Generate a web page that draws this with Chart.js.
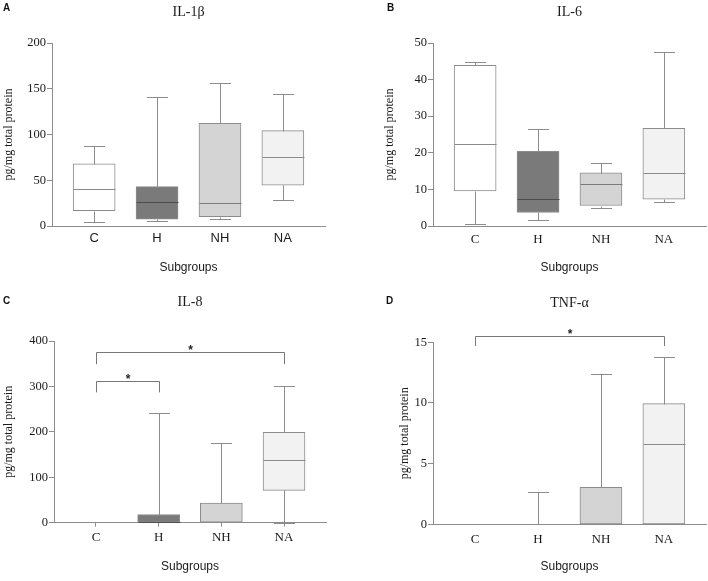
<!DOCTYPE html>
<html>
<head>
<meta charset="utf-8">
<script src="https://cdn.jsdelivr.net/npm/chart.js@4.4.1/dist/chart.umd.min.js"></script>
<style>
  body { margin: 0; background: #fff; }
  #wrap { position: relative; width: 708px; height: 581px; }
  canvas { position: absolute; }
  .tag { position: absolute; font: bold 10px "Liberation Sans", Arial, sans-serif; color: #111; }
</style>
</head>
<body>
<div id="wrap">
  <canvas id="chartA" width="354" height="290" style="left:0;top:0"></canvas>
  <canvas id="chartB" width="354" height="290" style="left:354px;top:0"></canvas>
  <canvas id="chartC" width="354" height="291" style="left:0;top:290px"></canvas>
  <canvas id="chartD" width="354" height="291" style="left:354px;top:290px"></canvas>
  <div class="tag" style="left:3px;top:2px">A</div>
  <div class="tag" style="left:387px;top:2px">B</div>
  <div class="tag" style="left:3px;top:295px">C</div>
  <div class="tag" style="left:386px;top:295px">D</div>
</div>
<script>
const groups = ['C', 'H', 'NH', 'NA'];

// box stats per group: [min, q1, median, q3, max]
const il1b = [[4.6, 16.8, 39.9, 68, 87.8], [5.8, 7.6, 26.7, 43.1, 140.8], [8, 10.2, 25.6, 112.3, 156.5], [28.2, 44.6, 75, 104.2, 144.4]];
const il6 = [[0.6, 9.6, 22.5, 43.9, 44.8], [1.65, 3.7, 7.5, 20.4, 26.4], [5, 5.6, 11.6, 14.5, 17.1], [6.5, 7.3, 14.6, 26.7, 47.5]];
const il8 = [[0, 0, 0, 0, 0], [0, 0, 2, 18, 241], [0, 0, 0, 43, 175], [0, 71, 137, 199, 302]];
const tnfa = [[0, 0, 0, 0, 0], [0, 0, 0, 0, 2.66], [0, 0, 0, 3.05, 12.35], [0, 0, 6.6, 9.95, 13.82]];

// significance brackets: [fromGroup, toGroup, barValue, legEndValue]
const il8Sig = [[0, 3, 376, 349], [0, 1, 311, 287]];
const tnfaSig = [[0, 3, 15.55, 14.7]];

const boxColors = ['#ffffff', '#7a7a7a', '#d4d4d4', '#f2f2f2'];
const medianColors = ['#8a8a8a', '#4d4d4d', '#7a7a7a', '#8a8a8a'];
const lineColor = '#8c8c8c';
const serif = '"Liberation Serif", "Times New Roman", serif';
const sans = '"Liberation Sans", Arial, sans-serif';

function extrasPlugin(stats, sig, title, titleY) {
    return {
        id: 'boxExtras',
        afterDatasetsDraw(chart) {
            const { ctx, chartArea } = chart;
            const x = chart.scales.x, y = chart.scales.y;
            const bars = chart.getDatasetMeta(0).data;
            ctx.save();
            ctx.lineWidth = 1;
            stats.forEach((s, i) => {
                const [mn, q1, med, q3, mx] = s;
                const cx = Math.round(bars[i].x) + 0.5;
                const half = bars[i].width / 2;
                const cap = half / 2;
                const py = v => Math.round(y.getPixelForValue(v)) + 0.5;
                ctx.strokeStyle = lineColor;
                ctx.beginPath();
                if (mx > q3) {
                    ctx.moveTo(cx, py(q3)); ctx.lineTo(cx, py(mx));
                    ctx.moveTo(cx - cap, py(mx)); ctx.lineTo(cx + cap, py(mx));
                }
                if (mn < q1) {
                    ctx.moveTo(cx, py(q1)); ctx.lineTo(cx, py(mn));
                    ctx.moveTo(cx - cap, py(mn)); ctx.lineTo(cx + cap, py(mn));
                }
                ctx.stroke();
                if (q3 > q1 && med > q1) {
                    ctx.strokeStyle = medianColors[i];
                    ctx.beginPath();
                    ctx.moveTo(cx - half, py(med)); ctx.lineTo(cx + half, py(med));
                    ctx.stroke();
                }
            });
            // significance brackets
            sig.forEach(([a, b, top, leg]) => {
                const xa = Math.round(x.getPixelForValue(a)) + 0.5;
                const xb = Math.round(x.getPixelForValue(b)) + 0.5;
                const yt = Math.round(y.getPixelForValue(top)) + 0.5;
                const yl = y.getPixelForValue(leg);
                ctx.strokeStyle = '#777';
                ctx.beginPath();
                ctx.moveTo(xa, yl); ctx.lineTo(xa, yt); ctx.lineTo(xb, yt); ctx.lineTo(xb, yl);
                ctx.stroke();
                ctx.fillStyle = '#222';
                ctx.font = 'bold 12px ' + sans;
                ctx.textAlign = 'center';
                ctx.textBaseline = 'alphabetic';
                ctx.fillText('*', (xa + xb) / 2, yt + 1);
            });
            // panel title centred over the plot
            ctx.fillStyle = '#1a1a1a';
            ctx.font = '14px ' + serif;
            ctx.textAlign = 'center';
            ctx.textBaseline = 'middle';
            ctx.fillText(title, (chartArea.left + chartArea.right) / 2, titleY);
            ctx.restore();
        }
    };
}

function makeChart(id, o) {
    new Chart(document.getElementById(id), {
        type: 'bar',
        data: {
            datasets: [{
                data: o.stats.map((s, i) => ({ x: i, y: [s[1], s[3]] })),
                backgroundColor: boxColors,
                borderColor: lineColor,
                borderWidth: 1,
                borderSkipped: false,
                barThickness: 42
            }]
        },
        options: {
            responsive: false,
            animation: false,
            devicePixelRatio: 1,
            layout: { padding: o.pad },
            plugins: { legend: { display: false }, tooltip: { enabled: false } },
            scales: {
                x: {
                    type: 'linear',
                    offset: false,
                    min: -0.67,
                    max: 3.67,
                    afterBuildTicks: s => { s.ticks = groups.map((g, i) => ({ value: i })); },
                    afterFit: s => { s.height = o.xHeight; },
                    ticks: {
                        callback: v => groups[v],
                        font: { family: o.xSans ? sans : serif, size: 13 },
                        color: '#1a1a1a',
                        padding: o.xPad,
                        maxRotation: 0
                    },
                    grid: { offset: false, drawOnChartArea: false, drawTicks: !!o.xTicks, tickLength: 4, color: lineColor },
                    border: { color: lineColor },
                    title: {
                        display: true,
                        text: 'Subgroups',
                        font: { family: sans, size: 12 },
                        color: '#1a1a1a',
                        padding: { top: 0, bottom: o.xTitlePad }
                    }
                },
                y: {
                    min: 0,
                    max: o.yMax,
                    afterFit: s => { s.width = o.yWidth; },
                    ticks: {
                        stepSize: o.yStep,
                        font: { family: serif, size: 12.5 },
                        color: '#1a1a1a',
                        padding: 1
                    },
                    grid: { drawOnChartArea: false, tickLength: 5, color: lineColor },
                    border: { color: lineColor },
                    title: {
                        display: true,
                        text: 'pg/mg total protein',
                        font: { family: serif, size: 12 },
                        color: '#1a1a1a',
                        padding: { top: 2, bottom: 0 }
                    }
                }
            }
        },
        plugins: [extrasPlugin(o.stats, o.sig, o.title, o.titleY)]
    });
}

makeChart('chartA', {
    stats: il1b, sig: [], title: 'IL-1β', titleY: 12,
    yMax: 200, yStep: 50, yWidth: 52, xHeight: 50, xSans: true, xPad: 4.5, xTitlePad: 1.2,
    pad: { top: 43, left: 0, right: 29, bottom: 14 }
});
makeChart('chartB', {
    stats: il6, sig: [], title: 'IL-6', titleY: 12,
    yMax: 50, yStep: 10, yWidth: 52, xHeight: 50, xPad: 5.5, xTitlePad: 1.2,
    pad: { top: 43, left: 27, right: 2, bottom: 14 }
});
makeChart('chartC', {
    stats: il8, sig: il8Sig, title: 'IL-8', titleY: 12,
    yMax: 400, yStep: 100, yWidth: 54, xHeight: 52, xTicks: true, xPad: 3.5, xTitlePad: 1,
    pad: { top: 51, left: 0, right: 28, bottom: 6.3 }
});
makeChart('chartD', {
    stats: tnfa, sig: tnfaSig, title: 'TNF-α', titleY: 13,
    yMax: 15, yStep: 5, yWidth: 37, xHeight: 52, xPad: 7.2, xTitlePad: 2.5,
    pad: { top: 52.3, left: 42, right: 2, bottom: 4.7 }
});
</script>
</body>
</html>
